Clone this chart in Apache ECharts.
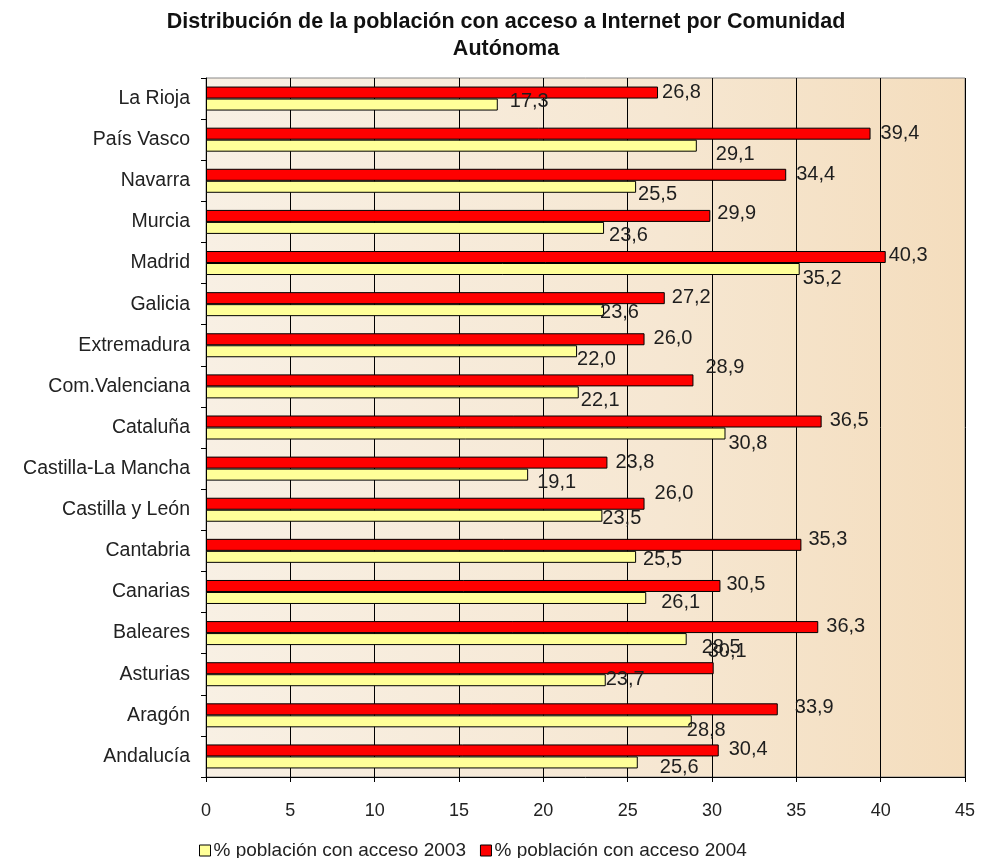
<!DOCTYPE html>
<html><head><meta charset="utf-8">
<script src="https://cdn.jsdelivr.net/npm/echarts@6/dist/echarts.min.js"></script>
<style>html,body{margin:0;padding:0;background:#fff}#c{width:993px;height:858px}</style>
</head><body><div id="c"></div>
<script>
var categories = ['La Rioja','País Vasco','Navarra','Murcia','Madrid','Galicia','Extremadura','Com.Valenciana','Cataluña','Castilla-La Mancha','Castilla y León','Cantabria','Canarias','Baleares','Asturias','Aragón','Andalucía'];
var values2004 = [26.8,39.4,34.4,29.9,40.3,27.2,26.0,28.9,36.5,23.8,26.0,35.3,30.5,36.3,30.1,33.9,30.4];
var values2003 = [17.3,29.1,25.5,23.6,35.2,23.6,22.0,22.1,30.8,19.1,23.5,25.5,26.1,28.5,23.7,28.8,25.6];
var xTicks = [0,5,10,15,20,25,30,35,40,45];
var seriesNames = ['% población con acceso 2003','% población con acceso 2004'];

// label placement style (pixel nudges of each data label, as in the original figure)
var labelShift2004 = [[4,0],[10,0],[10,0],[7,-2],[3,-2],[7,-1],[9,-1],[12,-13],[8,-1],[8,0],[10,-10],[7,-5],[6,-1],[8,-1],[-6,-17],[17,-2],[10,-1]];
var labelShift2003 = [[12,-3],[19,9],[2,8],[5,8],[3,9],[-4,2],[0,8],[2,8],[3,10],[9,8],[0,3],[7,3],[15,5],[15,8],[0,-1],[-5,9],[22,5]];

var chart = echarts.init(document.getElementById('c'));
function fmt(p){ return Number(p.value).toFixed(1).replace('.', ','); }
function withShift(vals, shifts){
  return vals.map(function(v,i){ return {value:v, label:{offset:shifts[i]}}; });
}
var font = 'Liberation Sans, Arial, sans-serif';
chart.setOption({
  animation:false,
  title:{text:'Distribución de la población con acceso a Internet por Comunidad\nAutónoma',
    left:501, top:4, textAlign:'center',
    textStyle:{fontFamily:font,fontSize:21.5,fontWeight:'bold',color:'#111',lineHeight:27}},
  legend:{data:seriesNames, left:194, top:836, itemWidth:11, itemHeight:11, itemGap:14,
    icon:'rect', itemStyle:{borderColor:'#000',borderWidth:1},
    textStyle:{fontFamily:font,fontSize:19,color:'#222',padding:[0,0,0,-2]}},
  grid:{left:206,right:28,top:78,bottom:81,show:true,borderColor:'#888',borderWidth:1,
    backgroundColor:{type:'linear',x:0,y:0,x2:1,y2:0,colorStops:[{offset:0,color:'#f8f0e4'},{offset:0.6,color:'#f6e7d2'},{offset:1,color:'#f4ddbd'}]}},
  xAxis:{type:'value',min:0,max:45,interval:5,
    axisLine:{show:true,lineStyle:{color:'#000'}},
    axisTick:{show:true,length:5,lineStyle:{color:'#000'}},
    axisLabel:{fontFamily:font,fontSize:18,color:'#222',margin:25,
      formatter:function(v){return xTicks.indexOf(v)>=0?String(v):'';}},
    splitLine:{show:true,lineStyle:{color:'#000',width:1}}},
  yAxis:{type:'category',data:categories,inverse:true,
    axisLine:{show:true,lineStyle:{color:'#000'}},
    axisTick:{show:true,length:5,lineStyle:{color:'#000'}},
    axisLabel:{fontFamily:font,fontSize:19.5,color:'#222',margin:16},
    splitLine:{show:false}},
  series:[
    {name:seriesNames[1],type:'bar',data:withShift(values2004,labelShift2004),barWidth:12,barGap:'0%',barCategoryGap:'40%',
      itemStyle:{color:'#ff0000',borderColor:'#000',borderWidth:1},
      label:{show:true,position:'right',distance:0,formatter:fmt,
        fontFamily:font,fontSize:20,color:'#1e1e1e'}},
    {name:seriesNames[0],type:'bar',data:withShift(values2003,labelShift2003),barWidth:12,barGap:'0%',
      itemStyle:{color:'#ffff99',borderColor:'#000',borderWidth:1},
      label:{show:true,position:'right',distance:0,formatter:fmt,
        fontFamily:font,fontSize:20,color:'#1e1e1e'}}
  ]
});
</script></body></html>
